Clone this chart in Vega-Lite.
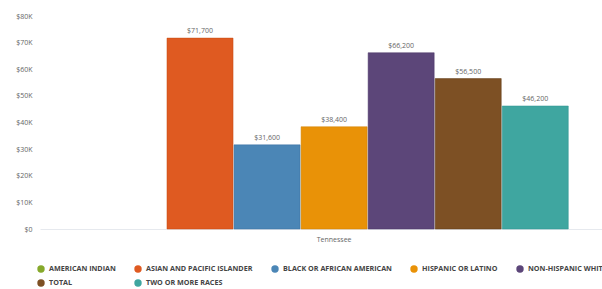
{
  "$schema": "https://vega.github.io/schema/vega-lite/v6.json",
  "width": 562,
  "height": 213,
  "autosize": {"type": "none"},
  "padding": {"left": 40, "top": 16, "right": 0, "bottom": 60},
  "config": {
    "font": "Open Sans",
    "view": {"stroke": null},
    "axis": {"labelFont": "Open Sans"}
  },
  "data": {
    "values": [
      {"state": "Tennessee", "race": "AMERICAN INDIAN", "income": null},
      {"state": "Tennessee", "race": "ASIAN AND PACIFIC ISLANDER", "income": 71700},
      {"state": "Tennessee", "race": "BLACK OR AFRICAN AMERICAN", "income": 31600},
      {"state": "Tennessee", "race": "HISPANIC OR LATINO", "income": 38400},
      {"state": "Tennessee", "race": "NON-HISPANIC WHITE", "income": 66200},
      {"state": "Tennessee", "race": "TOTAL", "income": 56500},
      {"state": "Tennessee", "race": "TWO OR MORE RACES", "income": 46200}
    ]
  },
  "encoding": {
    "x": {
      "field": "state",
      "type": "nominal",
      "scale": {"paddingInner": 0, "paddingOuter": 0.1, "align": 0.64},
      "axis": {
        "title": null,
        "labelAngle": 0,
        "labelFontSize": 7,
        "labelColor": "#666",
        "ticks": false,
        "domainColor": "#e6e9ee",
        "domainWidth": 1,
        "labelPadding": 6
      }
    },
    "xOffset": {
      "field": "race",
      "type": "nominal",
      "scale": {
        "domain": ["AMERICAN INDIAN", "ASIAN AND PACIFIC ISLANDER", "BLACK OR AFRICAN AMERICAN", "HISPANIC OR LATINO", "NON-HISPANIC WHITE", "TOTAL", "TWO OR MORE RACES"],
        "paddingInner": 0.015,
        "paddingOuter": 0
      }
    },
    "y": {
      "field": "income",
      "type": "quantitative",
      "scale": {"domain": [0, 80000], "nice": false},
      "axis": {
        "title": null,
        "values": [0, 10000, 20000, 30000, 40000, 50000, 60000, 70000, 80000],
        "labelExpr": "datum.value == 0 ? '$0' : '$' + datum.value / 1000 + 'K'",
        "labelFontSize": 7,
        "labelColor": "#666",
        "grid": false,
        "domain": false,
        "ticks": false,
        "labelPadding": 8
      }
    }
  },
  "layer": [
    {
      "mark": {"type": "bar", "strokeWidth": 1, "strokeOpacity": 0.5},
      "encoding": {
        "color": {
          "field": "race",
          "type": "nominal",
          "scale": {
            "domain": ["AMERICAN INDIAN", "ASIAN AND PACIFIC ISLANDER", "BLACK OR AFRICAN AMERICAN", "HISPANIC OR LATINO", "NON-HISPANIC WHITE", "TOTAL", "TWO OR MORE RACES"],
            "range": ["#86a92b", "#df5a21", "#4b86b6", "#e99207", "#5c4679", "#7d5024", "#3fa6a0"]
          },
          "legend": {
            "title": null,
            "orient": "none",
            "legendX": -3,
            "legendY": 249,
            "direction": "horizontal",
            "columns": 5,
            "gridAlign": "none",
            "symbolType": "circle",
            "symbolSize": 55,
            "symbolStrokeWidth": 0,
            "labelFontSize": 7.2,
            "labelFontWeight": "bold",
            "labelColor": "#444",
            "labelLimit": 200,
            "columnPadding": 18,
            "rowPadding": 6
          }
        },
        "stroke": {
          "field": "race",
          "type": "nominal",
          "scale": {
            "domain": ["AMERICAN INDIAN", "ASIAN AND PACIFIC ISLANDER", "BLACK OR AFRICAN AMERICAN", "HISPANIC OR LATINO", "NON-HISPANIC WHITE", "TOTAL", "TWO OR MORE RACES"],
            "range": ["#86a92b", "#c84a10", "#3a70a0", "#d07f00", "#4a3566", "#5e3a14", "#2e9690"]
          },
          "legend": null
        }
      }
    },
    {
      "mark": {"type": "text", "dy": -7, "fontSize": 7, "color": "#666"},
      "encoding": {
        "text": {"field": "income", "type": "quantitative", "format": "$,.0f"}
      }
    }
  ]
}
